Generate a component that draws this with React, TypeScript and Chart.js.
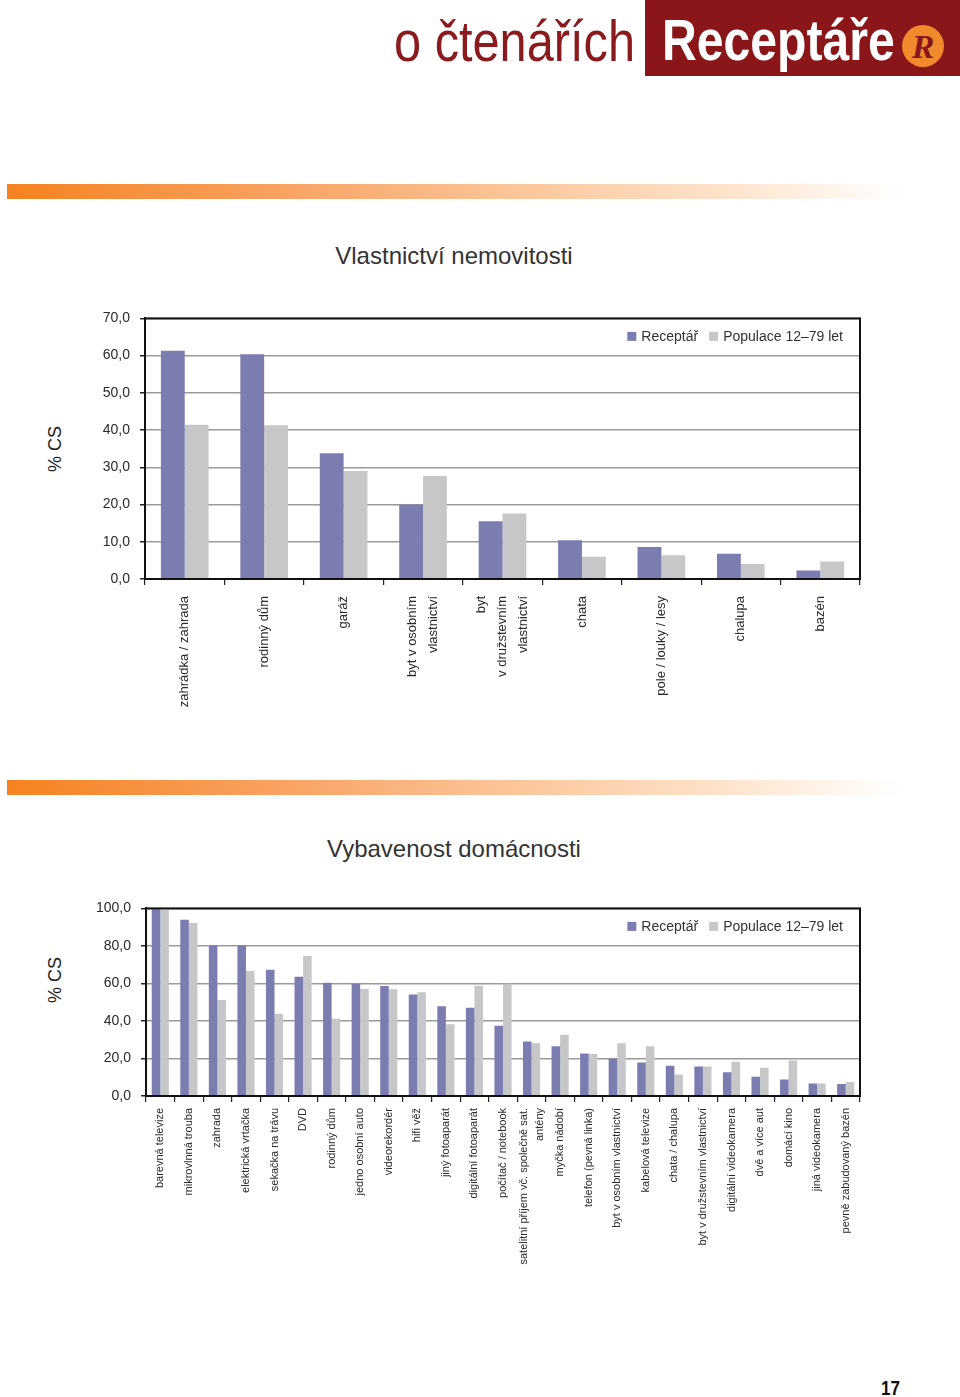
import React, { useEffect, useRef } from 'react';
import { Chart, registerables } from 'chart.js';

Chart.register(...registerables);

const seriesNames = ['Receptář', 'Populace 12–79 let'];
const seriesColors = ['#7b7db1', '#c6c7c9'];

const propertyTitle = 'Vlastnictví nemovitosti';
const propertyCategories: (string | string[])[] = [
  'zahrádka / zahrada',
  'rodinný dům',
  'garáž',
  ['byt v osobním', 'vlastnictví'],
  ['byt', 'v družstevním', 'vlastnictví'],
  'chata',
  'pole / louky / lesy',
  'chalupa',
  'bazén',
];
const propertyReceptar = [61.3, 60.4, 33.8, 20.0, 15.5, 10.4, 8.6, 6.8, 2.3];
const propertyPopulace = [41.4, 41.3, 29.0, 27.7, 17.6, 6.0, 6.4, 4.0, 4.7];
const propertyAxisMax = 70;
const propertyAxisStep = 10;

const equipmentTitle = 'Vybavenost domácnosti';
const equipmentCategories: (string | string[])[] = [
  'barevná televize',
  'mikrovlnná trouba',
  'zahrada',
  'elektrická vrtačka',
  'sekačka na trávu',
  'DVD',
  'rodinný dům',
  'jedno osobní auto',
  'videorekordér',
  'hifi věž',
  'jiný fotoaparát',
  'digitální fotoaparát',
  'počítač / notebook',
  ['satelitní příjem vč. společně sat.', 'antény'],
  'myčka nádobí',
  'telefon (pevná linka)',
  'byt v osobním vlastnictví',
  'kabelová televize',
  'chata / chalupa',
  'byt v družstevním vlastnictví',
  'digitální videokamera',
  'dvě a více aut',
  'domácí kino',
  'jiná videokamera',
  'pevně zabudovaný bazén',
];
const equipmentReceptar = [100, 94.0, 80.2, 80.2, 67.3, 63.6, 60.4, 59.9, 58.7, 54.1, 47.9, 47.0, 37.4, 29.0, 26.5, 22.6, 19.8, 17.8, 16.1, 15.7, 12.7, 10.2, 8.8, 6.7, 6.4];
const equipmentPopulace = [99.6, 92.2, 51.2, 66.6, 43.8, 74.6, 41.2, 57.1, 56.9, 55.3, 38.2, 58.8, 59.8, 28.1, 32.7, 22.4, 28.1, 26.5, 11.5, 15.7, 18.2, 15.0, 18.9, 6.7, 7.4];
const equipmentAxisMax = 100;
const equipmentAxisStep = 20;

const yAxisTitle = '% CS';

const FONT = '"Liberation Sans", Arial, sans-serif';

const fmt = (v: number) => v.toFixed(1).replace('.', ',');

const framePlugin = {
  id: 'frameAndLegend',
  afterDraw(chart: any) {
    const { ctx, chartArea } = chart;
    ctx.save();
    ctx.strokeStyle = '#111';
    ctx.lineWidth = 2;
    ctx.strokeRect(chartArea.left, chartArea.top, chartArea.right - chartArea.left, chartArea.bottom - chartArea.top);
    // legend inside the plot, top right
    ctx.font = '14px ' + FONT;
    ctx.textBaseline = 'middle';
    ctx.textAlign = 'left';
    const box = 9;
    const gapBox = 5;
    const gapItem = 11;
    const widths = seriesNames.map((n) => ctx.measureText(n).width);
    let total = 0;
    widths.forEach((w, i) => {
      total += box + gapBox + w + (i < widths.length - 1 ? gapItem : 0);
    });
    let x = chartArea.right - 17 - total;
    const y = chartArea.top + 18;
    seriesNames.forEach((n, i) => {
      ctx.fillStyle = seriesColors[i];
      ctx.fillRect(x, y - box / 2, box, box);
      x += box + gapBox;
      ctx.fillStyle = '#333';
      ctx.fillText(n, x, y + 1);
      x += widths[i] + gapItem;
    });
    ctx.restore();
  },
};

// rotated category labels, multi-line blocks centred on their category
const makeLabelPlugin = (fontSize: number, lineHeight: number, offsetY: number) => ({
  id: 'rotatedLabels',
  afterDraw(chart: any) {
    const { ctx, chartArea } = chart;
    const xs = chart.scales.x;
    const labels = chart.data.labels as (string | string[])[];
    ctx.save();
    ctx.font = fontSize + 'px ' + FONT;
    ctx.fillStyle = '#2a2a2a';
    ctx.textAlign = 'right';
    ctx.textBaseline = 'middle';
    labels.forEach((lab, i) => {
      const lines = Array.isArray(lab) ? lab : [lab];
      const x = xs.getPixelForValue(i);
      const y = chartArea.bottom + offsetY;
      ctx.save();
      ctx.translate(x, y);
      ctx.rotate(-Math.PI / 2);
      lines.forEach((ln, j) => {
        ctx.fillText(ln, 0, (j - (lines.length - 1) / 2) * lineHeight);
      });
      ctx.restore();
    });
    ctx.restore();
  },
});

type BarProps = {
  labels: (string | string[])[];
  a: number[];
  b: number[];
  max: number;
  step: number;
  left: number;
  top: number;
  width: number;
  height: number;
  yWidth: number;
  xHeight: number;
  padTop: number;
  padRight: number;
  xFontSize: number;
  xLineHeight: number;
  xOffset: number;
  yFontSize: number;
};

function BarChart(p: BarProps) {
  const ref = useRef<HTMLCanvasElement>(null);
  useEffect(() => {
    const chart = new Chart(ref.current as HTMLCanvasElement, {
      type: 'bar',
      data: {
        labels: p.labels as any,
        datasets: [
          { label: seriesNames[0], data: p.a, backgroundColor: seriesColors[0], borderWidth: 0 },
          { label: seriesNames[1], data: p.b, backgroundColor: seriesColors[1], borderWidth: 0 },
        ],
      },
      options: {
        animation: false,
        responsive: false,
        devicePixelRatio: 1,
        layout: { padding: { top: p.padTop, right: p.padRight, left: 0, bottom: 0 } },
        datasets: { bar: { categoryPercentage: 0.6, barPercentage: 1.0 } },
        plugins: { legend: { display: false }, tooltip: { enabled: false }, title: { display: false } },
        scales: {
          x: {
            grid: {
              display: true,
              offset: true,
              drawOnChartArea: false,
              drawTicks: true,
              tickLength: 6,
              color: '#222',
              lineWidth: 1.2,
            },
            border: { display: true, color: '#111', width: 2 },
            ticks: { display: false, autoSkip: false },
            afterFit: (s: any) => {
              s.height = p.xHeight;
            },
          },
          y: {
            min: 0,
            max: p.max,
            ticks: {
              stepSize: p.step,
              padding: 10,
              color: '#2a2a2a',
              font: { family: FONT, size: p.yFontSize },
              callback: (v: any) => fmt(Number(v)),
            },
            grid: { color: '#9a9a9a', lineWidth: 1.5, tickLength: 5, tickColor: '#222' },
            border: { display: true, color: '#111', width: 2 },
            afterFit: (s: any) => {
              s.width = p.yWidth;
            },
          },
        },
      },
      plugins: [framePlugin, makeLabelPlugin(p.xFontSize, p.xLineHeight, p.xOffset)],
    });
    return () => chart.destroy();
  }, []);
  return (
    <canvas
      ref={ref}
      width={p.width}
      height={p.height}
      style={{ position: 'absolute', left: p.left, top: p.top, width: p.width, height: p.height }}
    />
  );
}

const gradientBar = (top: number): React.CSSProperties => ({
  position: 'absolute',
  left: 7,
  top,
  width: 893,
  height: 15,
  background:
    'linear-gradient(to right, #f5821f 0%, #f8a160 30%, #fbc396 55%, #fde0c6 78%, rgba(255,255,255,0) 100%)',
});

const chartTitle = (top: number): React.CSSProperties => ({
  position: 'absolute',
  left: 0,
  top,
  width: 908,
  textAlign: 'center',
  fontFamily: FONT,
  fontSize: 24,
  lineHeight: '28px',
  color: '#333',
});

const yTitle = (cx: number, cy: number): React.CSSProperties => ({
  position: 'absolute',
  left: cx,
  top: cy,
  transform: 'translate(-50%, -50%) rotate(-90deg)',
  fontFamily: FONT,
  fontSize: 18,
  lineHeight: 1,
  whiteSpace: 'nowrap',
  color: '#222',
});

export default function App() {
  return (
    <div
      style={{
        position: 'absolute',
        left: 0,
        top: 0,
        width: 960,
        height: 1397,
        background: '#fff',
        overflow: 'hidden',
      }}
    >
      {/* header */}
      <div
        style={{
          position: 'absolute',
          left: 394,
          top: 10,
          fontFamily: FONT,
          fontSize: 58,
          lineHeight: '62px',
          color: '#8b1a1e',
          whiteSpace: 'nowrap',
          transform: 'scaleX(0.84)',
          transformOrigin: '0 0',
        }}
      >
        o čtenářích
      </div>
      <div style={{ position: 'absolute', left: 645, top: 0, width: 315, height: 76, background: '#8a1619' }} />
      <div
        style={{
          position: 'absolute',
          left: 662,
          top: 9,
          fontFamily: FONT,
          fontWeight: 'bold',
          fontSize: 58,
          lineHeight: '62px',
          color: '#fff',
          whiteSpace: 'nowrap',
          transform: 'scaleX(0.83)',
          transformOrigin: '0 0',
        }}
      >
        Receptáře
      </div>
      <div
        style={{
          position: 'absolute',
          left: 902,
          top: 25,
          width: 42,
          height: 42,
          borderRadius: '50%',
          background: '#f08a2c',
          color: '#8a1619',
          fontFamily: '"Liberation Serif", serif',
          fontStyle: 'italic',
          fontWeight: 'bold',
          fontSize: 34,
          lineHeight: '44px',
          textAlign: 'center',
        }}
      >
        R
      </div>

      <div style={gradientBar(184)} />
      <div style={chartTitle(242)}>{propertyTitle}</div>
      <div style={yTitle(55, 449)}>{yAxisTitle}</div>
      <BarChart
        labels={propertyCategories}
        a={propertyReceptar}
        b={propertyPopulace}
        max={propertyAxisMax}
        step={propertyAxisStep}
        left={40}
        top={300}
        width={840}
        height={420}
        yWidth={105}
        xHeight={141}
        padTop={16}
        padRight={20}
        xFontSize={13}
        xLineHeight={21}
        xOffset={17}
        yFontSize={14}
      />

      <div style={gradientBar(780)} />
      <div style={chartTitle(835)}>{equipmentTitle}</div>
      <div style={yTitle(55, 980)}>{yAxisTitle}</div>
      <BarChart
        labels={equipmentCategories}
        a={equipmentReceptar}
        b={equipmentPopulace}
        max={equipmentAxisMax}
        step={equipmentAxisStep}
        left={40}
        top={890}
        width={840}
        height={400}
        yWidth={106}
        xHeight={194}
        padTop={17}
        padRight={20}
        xFontSize={11}
        xLineHeight={16}
        xOffset={12}
        yFontSize={14}
      />

      <div
        style={{
          position: 'absolute',
          left: 881,
          top: 1378,
          fontFamily: FONT,
          fontWeight: 'bold',
          fontSize: 20,
          lineHeight: '20px',
          color: '#111',
          transform: 'scaleX(0.85)',
          transformOrigin: '0 0',
        }}
      >
        17
      </div>
    </div>
  );
}
